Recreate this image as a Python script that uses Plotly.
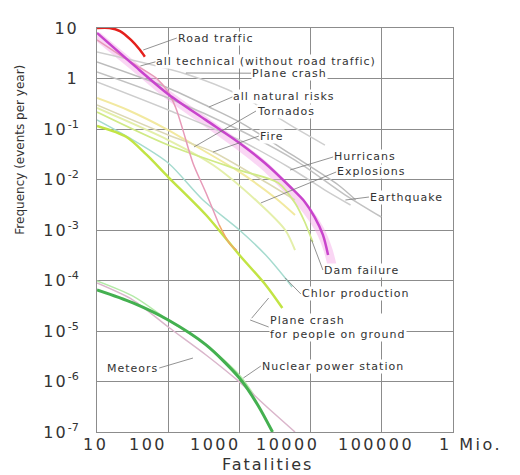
import math
import plotly.graph_objects as go

# ---------------- tick labels ----------------
x_tickvals = [10, 100, 1000, 10000, 100000, 1000000]
x_ticktext = ["10", "100", "1000", "10000", "100000", "1 Mio."]
y_tickvals = [10, 1, 1e-1, 1e-2, 1e-3, 1e-4, 1e-5, 1e-6, 1e-7]
y_ticktext = ["10", "1", "10<sup>-1</sup>", "10<sup>-2</sup>", "10<sup>-3</sup>",
              "10<sup>-4</sup>", "10<sup>-5</sup>", "10<sup>-6</sup>", "10<sup>-7</sup>"]

# ---------------- series (fatalities N, frequency per year) ----------------
road_n = [10, 15, 21, 30, 40, 47]
road_f = [10, 10, 8.7, 5.8, 3.7, 2.7]

tech_n = [10, 32, 100, 340, 1000, 2300, 5200, 8300, 11400, 14900, 17600]
tech_f = [8.0, 1.9, 0.49, 0.15, 0.053, 0.021, 0.0071, 0.0036, 0.0018, 0.0008, 0.00032]

tech_band_n = [10, 32, 100, 340, 1000, 2340, 5150, 8800, 13500, 17600, 20000]
tech_band_f = [7.0, 1.8, 0.47, 0.138, 0.046, 0.0177, 0.0057, 0.0025, 0.001, 0.0004, 0.0002]

steep_n = [10, 27, 68, 100, 128, 161, 223, 340, 520]
steep_f = [5.8, 2.3, 1.02, 0.54, 0.26, 0.095, 0.021, 0.0054, 0.00126]
steep_tail_n = [520, 720, 910]
steep_tail_f = [0.00126, 0.00055, 0.0004]

plane_n = [10, 177, 1000, 6040, 15900]
plane_f = [3.35, 1.23, 0.471, 0.105, 0.048]

natural_n = [10, 100, 375, 1000, 5490, 24500, 43000]
natural_f = [2.12, 0.649, 0.273, 0.138, 0.0306, 0.00778, 0.00393]

quake_n = [10, 100, 1000, 6040, 30800, 98400]
quake_f = [1.35, 0.411, 0.0955, 0.0243, 0.00493, 0.00181]

hurricane_n = [10, 100, 1000, 5150, 15900, 36400]
hurricane_f = [0.853, 0.238, 0.0605, 0.0169, 0.00619, 0.00313]

tornado_n = [10, 27, 100, 230, 1000, 3210, 6040]
tornado_f = [0.411, 0.238, 0.0955, 0.0482, 0.0141, 0.0043, 0.00198]

fire_n = [10, 100, 427, 1880, 6040]
fire_f = [0.298, 0.076, 0.0351, 0.0107, 0.00393]

explosion_n = [10, 100, 427, 1880, 4400, 6040]
explosion_f = [0.261, 0.0605, 0.0194, 0.00343, 0.001, 0.0004]

dam_n = [10, 100, 1000, 3530, 6040, 8280, 10700]
dam_f = [0.217, 0.0482, 0.0154, 0.00853, 0.00343, 0.00144, 0.000578]

chlor_n = [10, 27, 100, 308, 1000, 2340, 4400, 5490]
chlor_f = [0.151, 0.0695, 0.0212, 0.00393, 0.001, 0.00032, 0.000112, 0.0000743]

ground_n = [10, 26, 50, 100, 340, 1000, 2340, 4010]
ground_f = [0.115, 0.0695, 0.0306, 0.0112, 0.00198, 0.00032, 0.0000814, 0.0000285]

meteor_n = [10, 32, 100, 340, 1000, 2740, 6040]
meteor_f = [8.9e-5, 4.1e-5, 1.2e-5, 3.35e-6, 9.8e-7, 2.7e-7, 1.0e-7]

meteor2_n = [10, 32, 100, 340, 1000, 1600]
meteor2_f = [9.8e-5, 4.9e-5, 1.65e-5, 5.3e-6, 1.35e-6, 5.4e-7]

nuclear_n = [10, 32, 100, 340, 1000, 1820, 2920]
nuclear_f = [6.5e-5, 3.6e-5, 1.65e-5, 5.3e-6, 1.17e-6, 3.4e-7, 1.0e-7]

fig = go.Figure()


def add(n, f, color, width):
    fig.add_trace(go.Scatter(
        x=n, y=f, mode="lines",
        line=dict(color=color, width=width, shape="spline", smoothing=0.8),
        hoverinfo="skip", showlegend=False))


add(tech_band_n, tech_band_f, "rgba(245,165,230,0.45)", 9)
add(quake_n, quake_f, "#c2c2c2", 1.5)
add(natural_n, natural_f, "#bcbcbc", 1.5)
add(hurricane_n, hurricane_f, "#cdcdcd", 1.5)
add(plane_n, plane_f, "#cfcfcf", 1.5)
add(tornado_n, tornado_f, "#f2e9a0", 2)
add(fire_n, fire_f, "#dcd8b4", 1.5)
add(explosion_n, explosion_f, "#e4efaa", 2)
add(dam_n, dam_f, "#d0ea86", 1.8)
add(chlor_n, chlor_f, "#a6dbcf", 1.5)
add(ground_n, ground_f, "#c2e444", 2.5)
add(steep_n, steep_f, "#e79ab8", 1.5)
add(steep_tail_n, steep_tail_f, "#f0a868", 1.5)
add(meteor2_n, meteor2_f, "#b4eaa8", 1.5)
add(meteor_n, meteor_f, "#dab6cb", 1.5)
add(nuclear_n, nuclear_f, "#44b050", 3)
add(tech_n, tech_f, "#c844cc", 2.5)
add(road_n, road_f, "#e4201c", 2.5)


def spaced(s, px):
    return '<span style="letter-spacing:%spx">%s</span>' % (px, s)


# ---------------- labels with leader lines (log10 coordinates) ----------------
labels = [
    (["Road traffic"], 2.121, 0.802, 1.649, 0.564, "left"),
    (["all technical (without road traffic)"], 1.821, 0.330, 1.609, 0.248, "left"),
    (["Plane crash"], 3.164, 0.105, 2.248, 0.109, "left"),
    (["all natural risks"], 2.901, -0.366, 2.574, -0.564, "left"),
    (["Tornados"], 3.233, -0.644, 2.362, -1.356, "left"),
    (["Fire"], 3.274, -1.139, 2.631, -1.455, "left"),
    (["Hurricans"], 4.317, -1.554, 3.712, -1.812, "left"),
    (["Explosions"], 4.360, -1.851, 3.301, -2.465, "left"),
    (["Earthquake"], 4.820, -2.347, 4.489, -2.406, "left"),
    (["Dam failure"], 4.173, -3.792, 4.014, -3.198, "left"),
    (["Chlor production"], 3.863, -4.267, 3.644, -3.950, "left"),
    (["Plane crash", "for people on ground"], 3.411, -4.921, 3.151, -4.782, "left"),
    (["Meteors"], 1.874, -5.733, 2.348, -5.535, "right"),
    (["Nuclear power station"], 3.301, -5.693, 3.055, -5.931, "left"),
]

for lines, tx, ty, hx, hy, anchor in labels:
    fig.add_annotation(
        x=hx, y=hy, ax=tx, ay=ty, xref="x", yref="y", axref="x", ayref="y",
        text="<br>".join(spaced(t, 1) for t in lines),
        showarrow=True, arrowhead=0, arrowwidth=0.8, arrowcolor="#777777",
        standoff=0, startstandoff=0,
        xanchor=anchor, yanchor="middle", align="left",
        bgcolor="white", borderpad=0,
        font=dict(family="DejaVu Sans", size=11, color="#333333"))

# second segment of the bent leader for the ground plane crash label
fig.add_annotation(
    x=3.411, y=-4.347, ax=3.151, ay=-4.782, xref="x", yref="y", axref="x", ayref="y",
    text=" ", showarrow=True, arrowhead=0, arrowwidth=0.8, arrowcolor="#777777",
    standoff=0, startstandoff=0, font=dict(size=1))

# x tick labels, placed at their ticks with the small pixel nudges of the original
x_label_nudge = [-2, -20, -24, -23, -6, 17]
for val, txt, dx in zip(x_tickvals, x_ticktext, x_label_nudge):
    fig.add_annotation(
        x=math.log10(val), xref="x", y=0, yref="paper", yanchor="top", xanchor="center",
        xshift=dx, yshift=-1, text=spaced(txt, 2.5), showarrow=False,
        font=dict(family="DejaVu Sans", size=16, color="#333333"))

# axis titles
fig.add_annotation(
    xref="paper", yref="paper", x=0.48, y=-0.081, text=spaced("Fatalities", 2),
    showarrow=False, xanchor="center", yanchor="middle",
    font=dict(family="DejaVu Sans", size=16, color="#333333"))
fig.add_annotation(
    xref="paper", yref="paper", x=-0.215, y=0.70, text="Frequency (events per year)",
    textangle=-90, showarrow=False, xanchor="center", yanchor="middle",
    font=dict(family="DejaVu Sans", size=12, color="#333333"))

axis_common = dict(
    type="log", showgrid=True, gridcolor="#8c8c8c", gridwidth=1,
    showline=True, linecolor="#8c8c8c", linewidth=1, mirror=True,
    ticks="", zeroline=False, automargin=False,
    tickfont=dict(family="DejaVu Sans", size=16, color="#333333"))

y_labels = [spaced(t[:2], 2) + t[2:] for t in y_ticktext]

fig.update_layout(
    width=520, height=475,
    margin=dict(l=97, r=67, t=28, b=43),
    paper_bgcolor="white", plot_bgcolor="white",
    showlegend=False,
    xaxis=dict(axis_common, range=[1, 6], tickvals=x_tickvals, showticklabels=False),
    yaxis=dict(axis_common, range=[-7, 1], tickvals=y_tickvals, ticktext=y_labels,
               ticklabelstandoff=14),
)

fig.write_html("out.html", config={"displayModeBar": False},
               post_script="document.body.style.margin='0';")
